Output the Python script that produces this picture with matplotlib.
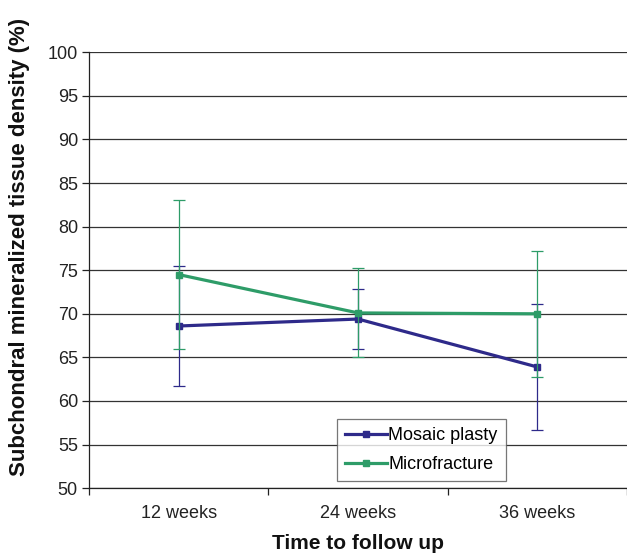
import matplotlib.pyplot as plt
from matplotlib.ticker import FixedLocator
from matplotlib.lines import Line2D

# dados
semanas = ["12 weeks", "24 weeks", "36 weeks"]
mosaic = [68.6, 69.4, 63.9]
mosaic_err = [6.9, 3.4, 7.2]
micro = [74.5, 70.1, 70.0]
micro_err = [8.5, 5.1, 7.2]

cor_mosaic = "#2e2a8a"
cor_micro = "#2e9c68"

plt.rcParams['font.family'] = ['Liberation Sans', 'DejaVu Sans']

fig = plt.figure(figsize=(6.27, 5.56), dpi=100)
ax = fig.add_axes([0.142, 0.122, 0.858, 0.784])

x = list(range(len(semanas)))

ax.errorbar(x, mosaic, yerr=mosaic_err, color=cor_mosaic, lw=2.3,
            marker='s', ms=4.5, elinewidth=0.9, capsize=4.5, capthick=0.9, zorder=3)
ax.errorbar(x, micro, yerr=micro_err, color=cor_micro, lw=2.3,
            marker='s', ms=4.5, elinewidth=0.9, capsize=4.5, capthick=0.9, zorder=4)

ax.set_ylim(50, 100)
ax.set_xlim(-0.5, 2.5)
ax.set_yticks(range(50, 101, 5))
ax.grid(axis='y', color='#333333', lw=0.9)
ax.set_axisbelow(True)

ax.set_xticks(x)
ax.set_xticklabels(semanas)
ax.xaxis.set_minor_locator(FixedLocator([-0.5, 0.5, 1.5, 2.5]))
ax.tick_params(axis='x', which='major', length=0, pad=12, labelsize=13, colors='#222222')
ax.tick_params(axis='x', which='minor', length=5, width=0.9, color='#222222')
ax.tick_params(axis='y', length=5, width=0.9, pad=3, labelsize=13, colors='#222222')

for s in ['top', 'right']:
    ax.spines[s].set_visible(False)
for s in ['left', 'bottom']:
    ax.spines[s].set_color('#222222')
    ax.spines[s].set_linewidth(0.9)

ax.set_xlabel("Time to follow up", fontsize=15, fontweight='bold', labelpad=9, color='#111111')
fig.text(20 / 627, 1 - 247 / 556, "Subchondral mineralized tissue density (%)",
         fontsize=16, fontweight='bold', rotation=90, ha='center', va='center',
         color='#111111')

# legenda sem as barras de erro
handles = [Line2D([], [], color=cor_mosaic, lw=2.3, marker='s', ms=4),
           Line2D([], [], color=cor_micro, lw=2.3, marker='s', ms=4)]
leg = ax.legend(handles, ["Mosaic plasty", "Microfracture"], loc='lower left',
                bbox_to_anchor=(0.461, 0.016), fontsize=13,
                frameon=True, fancybox=False, edgecolor='#555555', handlelength=2.3,
                handletextpad=0.1, borderpad=0.45, labelspacing=0.65, borderaxespad=0)
leg.get_frame().set_linewidth(0.9)

fig.savefig("out.png", dpi=100)
